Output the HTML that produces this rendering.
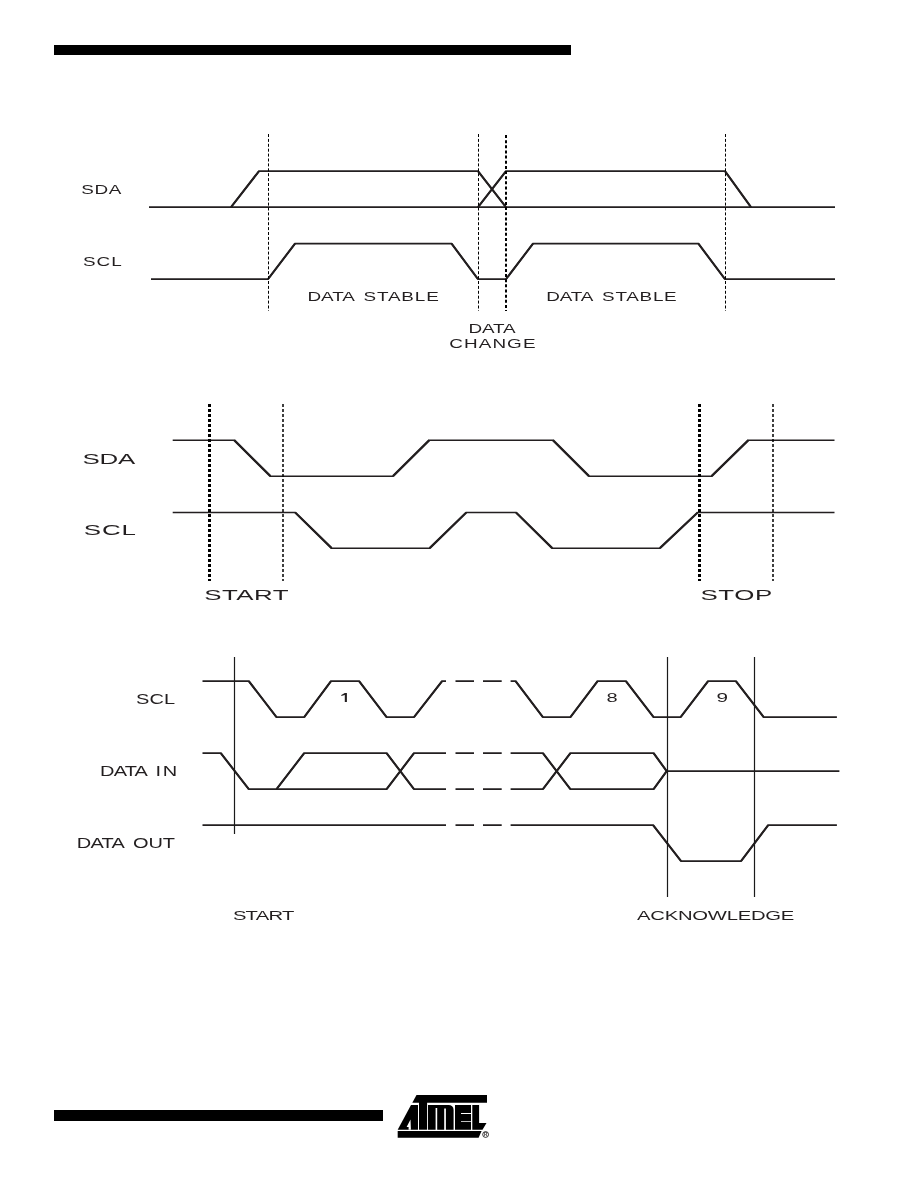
<!DOCTYPE html>
<html><head><meta charset="utf-8"><title>I2C timing</title>
<style>
html,body{margin:0;padding:0;background:#fff;}
body{width:918px;height:1188px;overflow:hidden;}
svg{display:block;will-change:transform;}
text{font-family:"Liberation Sans",sans-serif;fill:#231f20;}
</style></head><body>
<svg width="918" height="1188" viewBox="0 0 918 1188">
<rect x="54" y="45" width="517" height="10" fill="#000"/>
<rect x="54" y="1110" width="329" height="11" fill="#000"/>
<g transform="translate(0,0.15)" fill="none" stroke="#231f20" stroke-linejoin="miter">
<path d="M149,207 H835" stroke-width="1.70"/>
<path d="M231,207 L259,171 H478 L506,207" stroke-width="1.70"/>
<path d="M478,207 L506,171 H725 L751,207" stroke-width="1.70"/>
<path d="M151,279 H268 L295,243.5 H451.6 L478,279 H506 L533,243.5 H698.4 L725,279 H835" stroke-width="1.70"/>
<path d="M172.7,440 H234.2 L270.4,476 H393 L429.3,440 H552.9 L589,476 H711.6 L748.4,440 H834.5" stroke-width="1.53"/>
<path d="M172.7,512.3 H295.2 L331.6,548 H429.7 L466.3,512.3 H516 L552.2,548 H659.9 L697.7,512.3 H834.5" stroke-width="1.53"/>
<path d="M202.5,681 H248.8 L276.5,717 H304.2 L331,681 H359.1 L386.6,717 H414 L442.1,681 H446" stroke-width="1.70"/>
<path d="M510.6,681 H515.6 L542.9,717 H570.4 L597.6,681 H625.9 L653.6,717 H680.6 L708.1,681 H735.9 L763.7,717 H836.9" stroke-width="1.70"/>
<path d="M202.5,753 H220.8 L248.8,789 H386.6 L414,753 H446" stroke-width="1.70"/>
<path d="M276.5,789 L304.2,753 H386.6 L414,789 H446" stroke-width="1.70"/>
<path d="M510.6,753 H542.9 L570.4,789 H653.6 L666.7,771 H839.4" stroke-width="1.70"/>
<path d="M510.6,789 H542.9 L570.4,753 H653.6 L666.7,771" stroke-width="1.70"/>
<path d="M202.5,825 H446" stroke-width="1.70"/>
<path d="M510.6,825 H653.1 L681.1,861 H741 L768.2,825 H836.9" stroke-width="1.70"/>
<path d="M231.0,207.0 L259.0,171.0 M478.0,171.0 L506.0,207.0 M478.0,207.0 L506.0,171.0 M725.0,171.0 L751.0,207.0 M268.0,279.0 L295.0,243.5 M451.6,243.5 L478.0,279.0 M506.0,279.0 L533.0,243.5 M698.4,243.5 L725.0,279.0 M248.8,681.0 L276.5,717.0 M304.2,717.0 L331.0,681.0 M359.1,681.0 L386.6,717.0 M414.0,717.0 L442.1,681.0 M515.6,681.0 L542.9,717.0 M570.4,717.0 L597.6,681.0 M625.9,681.0 L653.6,717.0 M680.6,717.0 L708.1,681.0 M735.9,681.0 L763.7,717.0 M220.8,753.0 L248.8,789.0 M386.6,789.0 L414.0,753.0 M276.5,789.0 L304.2,753.0 M386.6,753.0 L414.0,789.0 M542.9,753.0 L570.4,789.0 M653.6,789.0 L666.7,771.0 M542.9,789.0 L570.4,753.0 M653.6,753.0 L666.7,771.0 M653.1,825.0 L681.1,861.0 M741.0,861.0 L768.2,825.0" stroke-width="2.05"/>
<path d="M234.2,440 L270.4,476 M393,476 L429.3,440 M552.9,440 L589,476 M711.6,476 L748.4,440 M295.2,512.3 L331.6,548 M429.7,548 L466.3,512.3 M516,512.3 L552.2,548 M659.9,548 L697.7,512.3" stroke-width="2.2"/>
</g>
<path d="M455.5,681 H474 M483,681 H501.7" stroke="#231f20" stroke-width="1.7" transform="translate(0,0.15)"/>
<path d="M455.5,753 H474 M483,753 H501.7" stroke="#231f20" stroke-width="1.7" transform="translate(0,0.15)"/>
<path d="M455.5,789 H474 M483,789 H501.7" stroke="#231f20" stroke-width="1.7" transform="translate(0,0.15)"/>
<path d="M455.5,825 H474 M483,825 H501.7" stroke="#231f20" stroke-width="1.7" transform="translate(0,0.15)"/>
<line x1="268.5" y1="134" x2="268.5" y2="311" stroke="#000" stroke-width="1" stroke-dasharray="3 1.9"/>
<line x1="478.5" y1="134" x2="478.5" y2="311" stroke="#000" stroke-width="1" stroke-dasharray="3 1.9"/>
<line x1="725.5" y1="134" x2="725.5" y2="311" stroke="#000" stroke-width="1" stroke-dasharray="3 1.9"/>
<line x1="506" y1="135" x2="506" y2="311" stroke="#000" stroke-width="2" stroke-dasharray="3 2.15"/>
<line x1="209.5" y1="404" x2="209.5" y2="581" stroke="#000" stroke-width="3" stroke-dasharray="3 2"/>
<line x1="699.5" y1="404" x2="699.5" y2="581" stroke="#000" stroke-width="3" stroke-dasharray="3 2"/>
<line x1="283" y1="404" x2="283" y2="581" stroke="#000" stroke-width="1.5" stroke-dasharray="3 2"/>
<line x1="773" y1="404" x2="773" y2="581" stroke="#000" stroke-width="1.5" stroke-dasharray="3 2"/>
<line x1="234.5" y1="657" x2="234.5" y2="834" stroke="#1a1a1a" stroke-width="1.2"/>
<line x1="667.5" y1="657" x2="667.5" y2="897" stroke="#1a1a1a" stroke-width="1.2"/>
<line x1="754.5" y1="657" x2="754.5" y2="897" stroke="#1a1a1a" stroke-width="1.2"/>
<text transform="translate(81.34,194.00) scale(1.38,1)" font-size="13.70" textLength="29.01" lengthAdjust="spacing">SDA</text>
<text transform="translate(82.91,266.00) scale(1.38,1)" font-size="13.70" textLength="28.18" lengthAdjust="spacing">SCL</text>
<text transform="translate(307.61,300.90) scale(1.38,1)" font-size="13.70" textLength="34.19" lengthAdjust="spacing">DATA</text>
<text transform="translate(363.49,300.90) scale(1.38,1)" font-size="13.70" textLength="54.54" lengthAdjust="spacing">STABLE</text>
<text transform="translate(546.29,300.90) scale(1.38,1)" font-size="13.70" textLength="34.18" lengthAdjust="spacing">DATA</text>
<text transform="translate(602.12,300.90) scale(1.38,1)" font-size="13.70" textLength="54.08" lengthAdjust="spacing">STABLE</text>
<text transform="translate(468.57,333.00) scale(1.38,1)" font-size="13.70" textLength="34.05" lengthAdjust="spacing">DATA</text>
<text transform="translate(449.26,348.00) scale(1.38,1)" font-size="13.70" textLength="62.50" lengthAdjust="spacing">CHANGE</text>
<text transform="translate(82.51,463.80) scale(1.8,1)" font-size="14.40" textLength="29.32" lengthAdjust="spacing">SDA</text>
<text transform="translate(83.63,534.90) scale(1.8,1)" font-size="14.40" textLength="29.11" lengthAdjust="spacing">SCL</text>
<text transform="translate(204.13,599.80) scale(1.8,1)" font-size="14.40" textLength="46.97" lengthAdjust="spacing">START</text>
<text transform="translate(700.51,599.90) scale(1.8,1)" font-size="14.40" textLength="39.87" lengthAdjust="spacing">STOP</text>
<text transform="translate(135.92,704.00) scale(1.45,1)" font-size="13.80" textLength="27.09" lengthAdjust="spacing">SCL</text>
<text transform="translate(100.11,775.70) scale(1.45,1)" font-size="13.80" textLength="32.92" lengthAdjust="spacing">DATA</text>
<text transform="translate(155.56,775.70) scale(1.45,1)" font-size="13.80" textLength="14.86" lengthAdjust="spacing">IN</text>
<text transform="translate(76.74,848.00) scale(1.45,1)" font-size="13.80" textLength="33.21" lengthAdjust="spacing">DATA</text>
<text transform="translate(133.02,848.00) scale(1.45,1)" font-size="13.80" textLength="28.94" lengthAdjust="spacing">OUT</text>
<text transform="translate(232.90,920.10) scale(1.5,1)" font-size="13.50" textLength="40.94" lengthAdjust="spacing">START</text>
<text transform="translate(636.99,919.80) scale(1.5,1)" font-size="13.50" textLength="104.92" lengthAdjust="spacing">ACKNOWLEDGE</text>
<polygon fill="#231f20" points="341.3,695.0 344.8,693.1 346.9,693.1 346.9,701.9 344.8,701.9 344.8,695.0 341.3,696.1"/>
<text transform="translate(606.43,702.00) scale(1.5670089446067383,1)" font-size="12.80" textLength="9.20" lengthAdjust="spacing">8</text>
<text transform="translate(716.51,702.09) scale(1.6207202187218266,1)" font-size="12.80" textLength="9.40" lengthAdjust="spacing">9</text>
<g fill="#000">
<polygon points="416.5,1095 487,1095 487,1102.8 412.3,1102.8"/>
<polygon points="397.7,1129.7 411,1104.9 418,1104.9 418,1129.7"/>
<polygon points="406.6,1127 410.5,1119.6 410.9,1129.7 408.6,1129.7 408.6,1127" fill="#fff"/>
<rect x="419" y="1095" width="8.1" height="34.7"/>
<path d="M428,1104.9 H448.6 A5,5 0 0 1 453.6,1109.9 V1129.7 H445.9 V1108.4 H444.2 V1129.7 H437.2 V1108 H435.6 V1129.7 H428 Z"/>
<path d="M455,1104.9 H471 V1113.1 H461 V1114.1 H471 V1121.2 H461 V1122 H471 V1129.7 H455 Z"/>
<polygon points="472.3,1104.9 479.1,1104.9 479.1,1122.9 486.5,1122.9 482.5,1129.7 472.3,1129.7"/>
<polygon points="397.7,1131.1 481.6,1131.1 478.6,1137.7 397.7,1137.7"/>
<circle cx="485.6" cy="1134.5" r="2.9" fill="none" stroke="#000" stroke-width="0.8"/>
<text x="484.1" y="1136.4" font-size="4.5" font-weight="bold">R</text>
</g>
</svg>
</body></html>
